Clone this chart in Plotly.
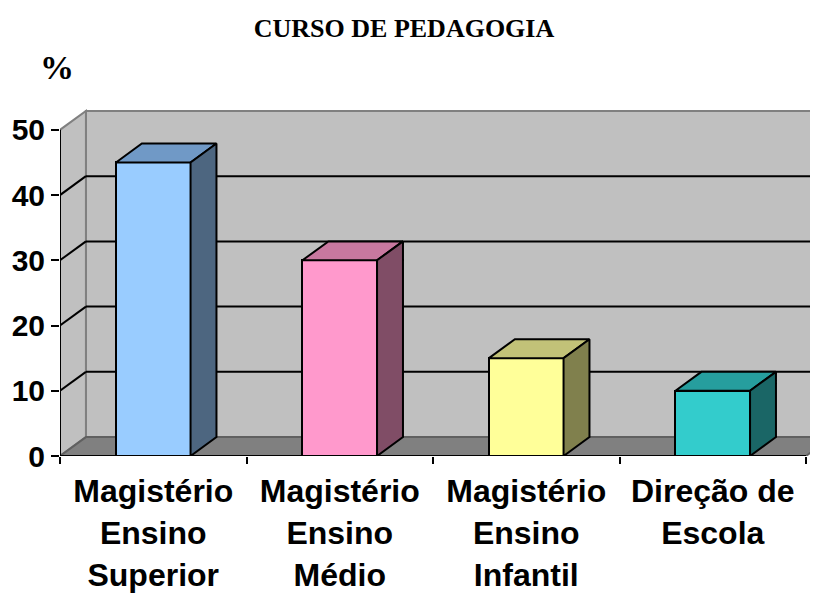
import plotly.graph_objects as go

# ---- data ----
categories = ["Magistério<br>Ensino<br>Superior", "Magistério<br>Ensino<br>Médio",
              "Magistério<br>Ensino<br>Infantil", "Direção de<br>Escola"]
values = [45, 30, 15, 10]
front_colors = ["#99CCFF", "#FF99CC", "#FFFF99", "#33CCCC"]
top_colors = ["#7099C6", "#C8789F", "#C2C278", "#269E9E"]
side_colors = ["#4D6680", "#804D66", "#80804D", "#1A6666"]
y_ticks = [0, 10, 20, 30, 40, 50]
title_text = "CURSO DE PEDAGOGIA"
y_unit = "%"

# ---- 3D geometry (depth offsets in data units) ----
DX = 0.139
DY = 2.9
BAR_W = 0.4
N = len(categories)
YMAX = 50
XR = 758 / 186.5
YR = 358 / 6.56

fig = go.Figure()

shapes = []
wall_fill = "#C0C0C0"
edge_gray = "#808080"
# back wall
shapes.append(dict(type="path", xref="x", yref="y", layer="below",
                   path=f"M {DX},{DY} L {N+DX},{DY} L {N+DX},{YMAX+DY} L {DX},{YMAX+DY} Z",
                   fillcolor=wall_fill, line=dict(color=edge_gray, width=2)))
# side wall
shapes.append(dict(type="path", xref="x", yref="y", layer="below",
                   path=f"M 0,0 L {DX},{DY} L {DX},{YMAX+DY} L 0,{YMAX} Z",
                   fillcolor=wall_fill, line=dict(color=edge_gray, width=2)))
# floor
shapes.append(dict(type="path", xref="x", yref="y", layer="below",
                   path=f"M 0,0 L {N},0 L {N+DX},{DY} L {DX},{DY} Z",
                   fillcolor="#808080", line=dict(color="#606060", width=2)))
# gridlines
for v in y_ticks[1:-1]:
    shapes.append(dict(type="line", xref="x", yref="y", layer="below",
                       x0=DX, y0=v+DY, x1=N+DX, y1=v+DY, line=dict(color="black", width=2)))
    shapes.append(dict(type="line", xref="x", yref="y", layer="below",
                       x0=0, y0=v, x1=DX, y1=v+DY, line=dict(color="black", width=2)))
# axis lines
shapes.append(dict(type="line", xref="x", yref="y", layer="below",
                   x0=0, y0=0, x1=N, y1=0, line=dict(color="black", width=2)))
shapes.append(dict(type="line", xref="x", yref="y", layer="below",
                   x0=0, y0=0, x1=0, y1=YMAX, line=dict(color="black", width=2)))

centers = [i + 0.5 for i in range(N)]

# front faces
fig.add_trace(go.Bar(x=centers, y=values, width=BAR_W,
                     marker=dict(color=front_colors, line=dict(color="black", width=2)),
                     hoverinfo="skip", showlegend=False))

# top and side faces
for c, v, tc, sc in zip(centers, values, top_colors, side_colors):
    x0, x1 = c - BAR_W / 2, c + BAR_W / 2
    fig.add_trace(go.Scatter(x=[x0, x1, x1 + DX, x0 + DX, x0], y=[v, v, v + DY, v + DY, v],
                             mode="lines", fill="toself", fillcolor=tc,
                             line=dict(color="black", width=2), showlegend=False, hoverinfo="skip"))
    fig.add_trace(go.Scatter(x=[x1, x1 + DX, x1 + DX, x1, x1], y=[0, DY, v + DY, v, 0],
                             mode="lines", fill="toself", fillcolor=sc,
                             line=dict(color="black", width=2), showlegend=False, hoverinfo="skip"))

# dummy trace for the boundary-tick axis
fig.add_trace(go.Scatter(x=[0], y=[0], xaxis="x2", mode="markers",
                         marker=dict(opacity=0), showlegend=False, hoverinfo="skip"))

x_font = dict(family="Arial, Liberation Sans, sans-serif", size=32, color="black", weight="bold")
y_font = dict(family="Arial, Liberation Sans, sans-serif", size=30, color="black", weight="bold")

W, H = 810, 585
fig.update_layout(
    width=W, height=H,
    margin=dict(l=52, r=0, t=92, b=135),
    paper_bgcolor="white", plot_bgcolor="white",
    shapes=shapes,
    bargap=0,
    xaxis=dict(range=[0, XR], tickvals=centers, ticktext=categories, ticks="outside",
               ticklen=7, tickcolor="rgba(0,0,0,0)", showgrid=False, zeroline=False,
               showline=False, tickfont=x_font, fixedrange=True),
    xaxis2=dict(range=[0, XR], overlaying="x", anchor="y", side="bottom",
                tickvals=list(range(N + 1)), ticks="outside", ticklen=7, tickwidth=2,
                tickcolor="black", showticklabels=False, showgrid=False, zeroline=False,
                showline=False),
    yaxis=dict(range=[0, YR], tickvals=y_ticks, ticks="outside", ticklen=8, tickwidth=2,
               tickcolor="black", showgrid=False, zeroline=False, showline=False,
               tickfont=y_font),
    title=dict(text=title_text, x=396 / W, xanchor="center", y=1 - 20 / H, yanchor="middle",
               xref="container", yref="container",
               font=dict(family="Times New Roman, Liberation Serif, serif", size=26,
                         color="black", weight="bold")),
    annotations=[dict(text=y_unit, xref="paper", yref="paper", x=(57 - 60) / 758,
                      y=(458 - 67) / 358, xanchor="center", yanchor="middle", showarrow=False,
                      font=dict(family="Times New Roman, Liberation Serif, serif", size=34,
                                color="black", weight="bold"))],
)

fig.write_html("out.html")
